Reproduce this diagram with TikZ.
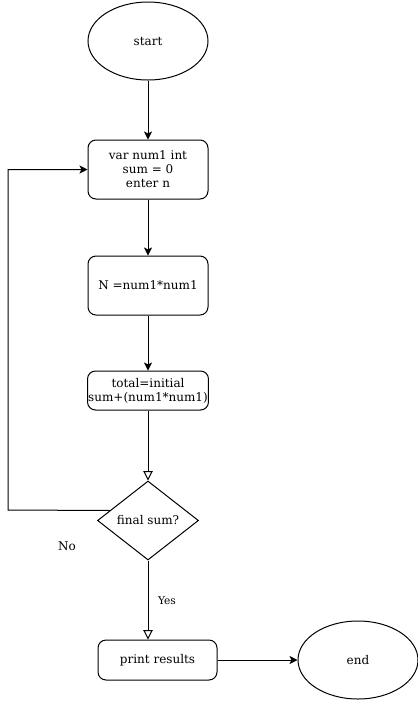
\documentclass[tikz,border=0pt]{standalone}
\usepackage{fontspec}
\setmainfont{DejaVu Serif}
\usetikzlibrary{shapes.geometric,arrows.meta,calc}

\begin{document}
\begin{tikzpicture}[x=0.75pt,y=-0.75pt,line width=0.75pt,
        every node/.style={font=\fontsize{9}{10.5}\selectfont},
        term/.style={draw,ellipse,minimum width=90pt,minimum height=58.5pt},
        procbox/.style={draw,rounded corners=6pt,minimum width=90pt,align=center,inner sep=0.5pt},
        decide/.style={draw,diamond,inner sep=0pt,minimum width=75.75pt,minimum height=59.25pt},
        arr/.style={-{Stealth[length=6pt,width=6pt,inset=1.5pt]}},
        openarr/.style={-{Triangle[open,length=7pt,width=7pt]}}]
        \useasboundingbox (0,0) rectangle (418,701);
        % shapes
        \node [term] (start) at (148,41) {start};
        \node [procbox,minimum height=44.25pt] (var) at (148,169.5) {var num1 int\\sum = 0\\enter n};
        \node [procbox,minimum height=44.25pt] (sq) at (148,285.5) {N =num1*num1};
        \node [procbox,minimum height=29.25pt] (tot) at (148,390.5) {total=initial\\sum+(num1*num1)};
        \node [decide] (fin) at (148,520.5) {final sum?};
        \node [procbox,minimum width=89.25pt,minimum height=30pt] (prn) at (157.5,660) {print results};
        \node [term] (stop) at (358,660) {end};
        % labels
        \node (no) at (67,546) {No};
        \node [font=\fontsize{8}{9}\selectfont] (yes) at (167,601) {Yes};
        \coordinate (loop) at (8,510);
        % connectors
        \draw [arr] (start) -- (var);
        \draw [arr] (var) -- (sq);
        \draw [arr] (sq) -- (tot);
        \draw [openarr] (tot) -- (fin);
        \draw [arr] ($(fin.west)!0.25!(fin.north)$) -- (loop) |- (var);
        \draw [openarr] (fin.south) -- (fin.south |- prn.north);
        \draw [arr] (prn) -- (stop);
\end{tikzpicture}
\end{document}
